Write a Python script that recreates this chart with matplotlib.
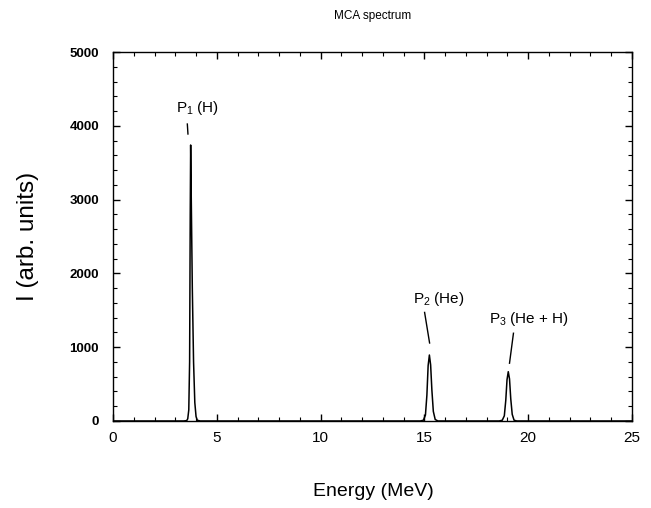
import matplotlib
matplotlib.use("Agg")
import matplotlib.pyplot as plt
from matplotlib.ticker import MultipleLocator

plt.rcParams['font.family'] = ['Liberation Sans', 'DejaVu Sans']
plt.rcParams['mathtext.fontset'] = 'custom'
plt.rcParams['mathtext.rm'] = 'Liberation Sans'
plt.rcParams['mathtext.it'] = 'Liberation Sans'

# Spectrum (energy in MeV, intensity in arb. units)
energy = [0.0, 3.40, 3.55, 3.60, 3.65, 3.69, 3.72, 3.74, 3.77, 3.82, 3.88, 3.94, 4.00, 4.06, 4.20,
          14.80, 14.95, 15.05, 15.12, 15.18, 15.24, 15.30, 15.36, 15.43, 15.52, 15.65,
          18.60, 18.75, 18.85, 18.92, 18.98, 19.04, 19.10, 19.16, 19.23, 19.32, 19.45, 25.0]
intensity = [0, 0, 5, 30, 150, 800, 2800, 3740, 3000, 1800, 800, 250, 60, 10, 0,
             0, 10, 80, 350, 750, 894, 760, 420, 130, 20, 0,
             0, 10, 70, 280, 560, 668, 570, 300, 90, 10, 0, 0]

peak_labels = ["P$_{1}$ (H)", "P$_{2}$ (He)", "P$_{3}$ (He + H)"]
label_pos = [(3.04, 4187), (14.44, 1603), (18.13, 1324)]
leader_start = [(3.58, 4024), (15.01, 1471), (19.29, 1189)]
leader_end = [(3.61, 3889), (15.25, 1057), (19.10, 783)]

fig = plt.figure(figsize=(6.51, 5.08), dpi=100)
ax = fig.add_axes([0.1736, 0.1713, 0.7972, 0.7263])
ax.plot(energy, intensity, color='black', lw=1.1)

for lab, (tx, ty), (x0, y0), (x1, y1) in zip(peak_labels, label_pos, leader_start, leader_end):
    ax.text(tx, ty, lab, fontsize=11, va='baseline', ha='left')
    ax.plot([x0, x1], [y0, y1], color='black', lw=1.0)

ax.set_xlim(0, 25)
ax.set_ylim(0, 5000)
ax.xaxis.set_major_locator(MultipleLocator(5))
ax.xaxis.set_minor_locator(MultipleLocator(1))
ax.yaxis.set_major_locator(MultipleLocator(1000))
ax.yaxis.set_minor_locator(MultipleLocator(200))
ax.tick_params(which='both', direction='in', top=True, right=True)
ax.tick_params(axis='y', which='major', pad=10, labelsize=9.5)
ax.tick_params(axis='x', which='major', pad=7, labelsize=11)
ax.tick_params(which='major', length=5, width=1)
ax.tick_params(which='minor', length=3, width=0.8)
for lbl in ax.get_yticklabels():
    lbl.set_fontweight('bold')
for s in ax.spines.values():
    s.set_linewidth(1.0)

fig.text(0.573, 1 - 16/508, "MCA spectrum", ha='center', va='center', fontsize=8.5)
fig.text(0.573, 1 - 492/508, "Energy (MeV)", ha='center', va='center', fontsize=14)
fig.text(28/651, 1 - 236/508, "I (arb. units)", ha='center', va='center', fontsize=17.5, rotation=90)

fig.savefig("out.png", dpi=100)
